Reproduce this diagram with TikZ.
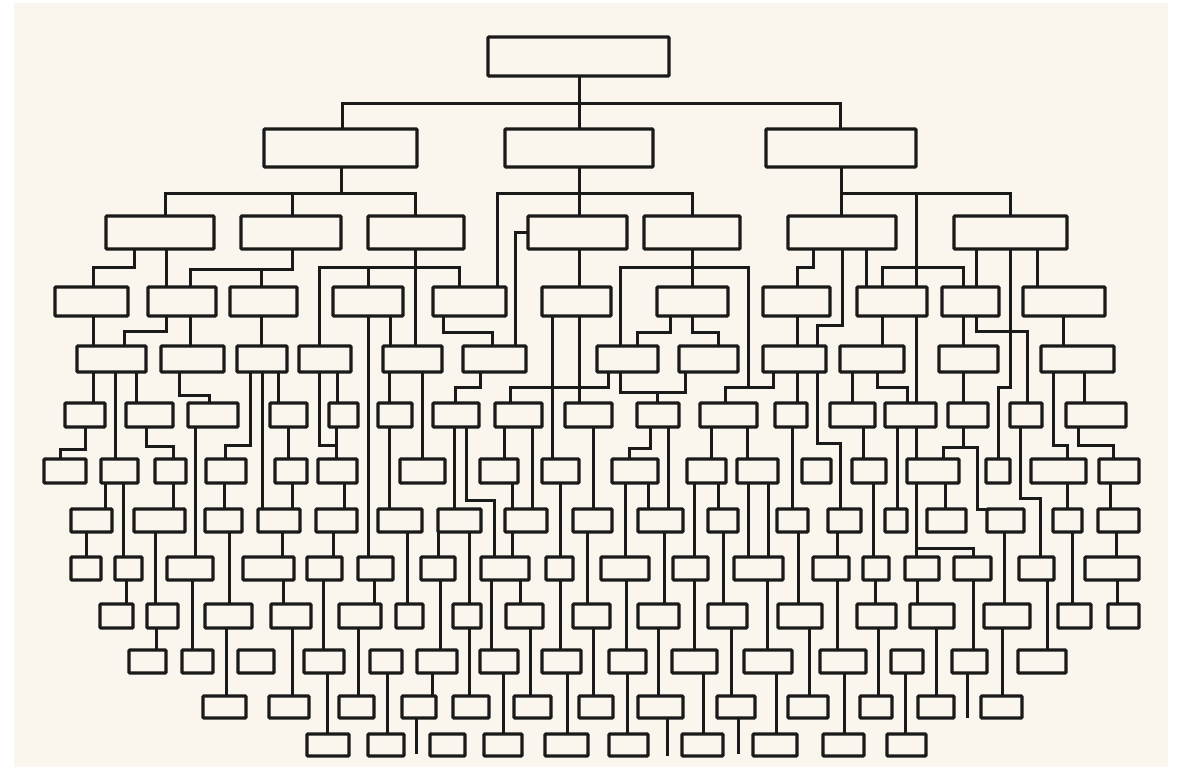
\documentclass[tikz,border=0pt]{standalone}
\usepackage{tikz}

\definecolor{paper}{HTML}{FAF6EE}
\definecolor{ink}{HTML}{1A1A1A}

% one box row: row, centre y, height, list of left/right edges
\newcommand{\boxrow}[4]{%
  \foreach \xa/\xb [count=\i] in {#4}
    \node[cell, minimum width={(\xb-\xa)*1pt}, minimum height=#3] (r#1c\i) at ({(\xa+\xb)/2},#2) {};}
% parent -> child with one elbow
\newcommand{\branch}[5]{\draw[wire] (#1.south -| #2,0) |- (#4,#3) -- (#5.north -| #4,0);}
% parent -> child with two elbows
\newcommand{\branchx}[7]{\draw[wire] (#1.south -| #2,0) |- (#4,#3) |- (#6,#5) -- (#7.north -| #6,0);}

\begin{document}
\begin{tikzpicture}[x=1pt, y=-1pt,
  cell/.style={draw=ink, line width=3.2pt, fill=paper, inner sep=0pt, outer sep=0pt, rounded corners=0.8pt},
  wire/.style={draw=ink, line width=3pt, line join=miter}]
\useasboundingbox (0,0) rectangle (1180,769);
% Paper
\fill[white] (0,0) rectangle (1180,769);
\fill[paper] (14,3) rectangle (1168,767);

% Boxes, row by row
\boxrow{0}{56.5}{39}{488/669}
\boxrow{1}{148}{38}{264/417, 505/653, 766/916}
\boxrow{2}{232.5}{33}{106/214, 241/341, 368/464, 528/627, 644/740, 788/896, 954/1067}
\boxrow{3}{301.5}{29}{55/128, 148/216, 230/297, 333/403, 433/506, 542/611, 657/728, 763/830, 857/927, 942/999, 1023/1105}
\boxrow{4}{359}{26}{77/146, 161/224, 237/287, 299/351, 383/442, 463/526, 597/658, 679/738, 763/826, 840/904, 939/998, 1041/1114}
\boxrow{5}{415}{24}{65/105, 126/173, 188/238, 270/307, 329/358, 378/412, 433/479, 495/542, 565/612, 637/679, 700/757, 775/807, 830/875, 885/936, 948/988, 1010/1042, 1066/1126}
\boxrow{6}{471}{24}{44/86, 101/138, 155/186, 206/246, 275/307, 318/357, 400/445, 480/518, 542/579, 612/658, 687/726, 737/778, 802/831, 852/886, 907/959, 986/1010, 1031/1086, 1099/1139}
\boxrow{7}{520.5}{23}{71/112, 134/185, 205/242, 258/300, 316/357, 378/422, 438/481, 505/547, 573/612, 638/683, 708/738, 777/808, 828/861, 885/907, 927/966, 987/1024, 1053/1082, 1098/1139}
\boxrow{8}{568.5}{23}{71/101, 115/142, 167/213, 243/294, 307/342, 358/393, 421/455, 481/529, 546/573, 601/649, 673/708, 734/783, 813/849, 863/889, 905/939, 954/991, 1019/1054, 1085/1139}
\boxrow{9}{616}{24}{100/133, 147/178, 205/252, 271/311, 339/381, 396/423, 453/481, 506/543, 573/610, 638/679, 708/747, 778/822, 857/896, 910/954, 984/1030, 1058/1091, 1108/1139}
\boxrow{10}{661.5}{23}{129/166, 182/213, 238/274, 304/344, 370/402, 417/457, 480/518, 542/581, 609/646, 672/717, 744/792, 820/866, 891/923, 952/987, 1018/1066}
\boxrow{11}{707}{22}{203/246, 269/309, 339/374, 402/436, 453/489, 514/551, 579/613, 638/683, 717/755, 788/828, 860/892, 918/954, 981/1022}
\boxrow{12}{745}{22}{307/349, 368/404, 430/465, 484/522, 545/588, 609/648, 682/723, 753/797, 823/864, 887/926}

% Top levels
\branch{r0c1}{579}{103}{342}{r1c1}
\branch{r0c1}{579}{103}{579}{r1c2}
\branch{r0c1}{579}{103}{840}{r1c3}
\branch{r1c1}{341}{193}{165}{r2c1}
\branch{r1c1}{341}{193}{292}{r2c2}
\branch{r1c1}{341}{193}{415}{r2c3}
\branch{r1c2}{579}{193}{579}{r2c4}
\branch{r1c2}{579}{193}{692}{r2c5}
\branch{r1c2}{579}{193}{497}{r3c5}
\branch{r1c3}{841}{193}{841}{r2c6}
\branch{r1c3}{841}{193}{1010}{r2c7}
\branchx{r1c3}{841}{193}{916}{267}{882}{r3c9}
\branchx{r1c3}{841}{193}{916}{267}{963}{r3c10}
\branch{r1c3}{841}{193}{916}{r3c9}

% Row 2 down
\branch{r2c1}{134}{267}{93}{r3c1}
\branch{r2c1}{166}{267}{166}{r3c2}
\branch{r2c2}{292}{269}{190}{r3c2}
\branch{r2c2}{292}{269}{261}{r3c3}
\branch{r2c3}{415}{267}{319}{r4c4}
\branch{r2c3}{415}{267}{368}{r3c4}
\branch{r2c3}{415}{267}{459}{r3c5}
\branch{r2c3}{415}{267}{415}{r4c5}
\draw[wire] (r2c4.west) -| (r4c6.north -| 515,0);
\branch{r2c4}{579}{267}{579}{r3c6}
\branch{r2c5}{692}{267}{692}{r3c7}
\branch{r2c5}{692}{267}{620}{r4c7}
\branchx{r2c5}{692}{267}{748}{387}{725}{r5c11}
\branch{r2c6}{813}{267}{797}{r3c8}
\branch{r2c6}{842}{325}{817}{r4c9}
\branch{r2c6}{866}{267}{866}{r3c9}
\branch{r2c7}{976}{267}{976}{r3c10}
\branch{r2c7}{1010}{387}{998}{r6c16}
\branch{r2c7}{1037}{267}{1037}{r3c11}

% Row 3 down
\branch{r3c1}{93}{330}{93}{r4c1}
\branch{r3c2}{166}{331}{124}{r4c1}
\branch{r3c2}{190}{331}{190}{r4c2}
\branch{r3c3}{261}{331}{261}{r4c3}
\branch{r3c4}{368}{331}{368}{r8c6}
\branch{r3c4}{390}{331}{390}{r4c5}
\branch{r3c5}{443}{332}{492}{r4c6}
\branch{r3c6}{552}{332}{552}{r6c9}
\branch{r3c6}{579}{332}{579}{r5c9}
\branch{r3c7}{670}{332}{637}{r4c7}
\branch{r3c7}{692}{332}{718}{r4c8}
\branch{r3c8}{797}{332}{797}{r4c9}
\branch{r3c9}{882}{332}{882}{r4c10}
\branch{r3c9}{916}{332}{916}{r5c14}
\branch{r3c10}{963}{332}{963}{r4c11}
\branch{r3c10}{976}{331}{1027}{r5c16}
\branch{r3c11}{1063}{332}{1063}{r4c12}

% Row 4 down
\branch{r4c1}{93}{390}{93}{r5c1}
\branch{r4c1}{115}{390}{115}{r6c2}
\branch{r4c1}{136}{390}{136}{r5c2}
\branch{r4c2}{179}{395}{209}{r5c3}
\branch{r4c3}{250}{445}{225}{r6c4}
\branch{r4c3}{262}{390}{262}{r7c4}
\branch{r4c3}{278}{390}{278}{r5c4}
\branch{r4c4}{319}{445}{336}{r6c6}
\branch{r4c4}{337}{390}{337}{r5c5}
\branch{r4c5}{389}{390}{389}{r5c6}
\branch{r4c5}{422}{390}{422}{r6c7}
\branch{r4c6}{480}{387}{455}{r5c7}
\branch{r4c7}{608}{387}{510}{r5c8}
\branch{r4c7}{620}{392}{657}{r5c10}
\branch{r4c8}{685}{392}{657}{r5c10}
\branch{r4c9}{773}{387}{725}{r5c11}
\branch{r4c9}{797}{390}{797}{r5c12}
\branch{r4c9}{817}{443}{840}{r7c13}
\branch{r4c10}{852}{390}{852}{r5c13}
\branch{r4c10}{877}{387}{907}{r5c14}
\branch{r4c11}{963}{390}{963}{r5c15}
\branch{r4c12}{1053}{445}{1067}{r6c17}
\branch{r4c12}{1084}{390}{1084}{r5c17}

% Row 5 down
\branch{r5c1}{85}{449}{60}{r6c1}
\branch{r5c2}{146}{446}{173}{r6c3}
\branch{r5c3}{195}{450}{195}{r8c3}
\branch{r5c4}{288}{450}{288}{r6c5}
\branch{r5c5}{336}{450}{336}{r6c6}
\branch{r5c6}{389}{450}{389}{r7c6}
\branch{r5c7}{454}{450}{454}{r7c7}
\branch{r5c7}{466}{500}{494}{r8c8}
\branch{r5c8}{504}{450}{504}{r6c8}
\branch{r5c8}{532}{450}{532}{r7c8}
\branch{r5c9}{593}{450}{593}{r7c9}
\branch{r5c10}{650}{448}{629}{r6c10}
\branch{r5c10}{668}{450}{668}{r7c10}
\branch{r5c11}{711}{450}{711}{r6c11}
\branch{r5c11}{747}{450}{747}{r6c12}
\branch{r5c12}{792}{450}{792}{r7c12}
\branch{r5c13}{863}{450}{863}{r6c14}
\branch{r5c14}{897}{450}{897}{r7c14}
\branch{r5c14}{916}{450}{916}{r6c15}
\branch{r5c15}{963}{447}{943}{r6c15}
\branchx{r5c15}{963}{447}{977}{509}{990}{r7c16}
\branch{r5c16}{1020}{498}{1040}{r8c17}
\branch{r5c17}{1078}{445}{1113}{r6c18}

% Row 6 down
\branch{r6c2}{105}{495}{105}{r7c1}
\branch{r6c2}{123}{495}{123}{r8c2}
\branch{r6c3}{173}{495}{173}{r7c2}
\branch{r6c4}{224}{495}{224}{r7c3}
\branch{r6c5}{292}{495}{292}{r7c4}
\branch{r6c6}{344}{495}{344}{r7c5}
\branch{r6c8}{512}{495}{512}{r7c8}
\branch{r6c9}{560}{495}{560}{r8c9}
\branch{r6c10}{625}{495}{625}{r8c10}
\branch{r6c10}{648}{495}{648}{r7c10}
\branch{r6c11}{694}{495}{694}{r8c11}
\branch{r6c11}{718}{495}{718}{r7c11}
\branch{r6c12}{748}{495}{748}{r8c12}
\branch{r6c12}{768}{495}{768}{r8c12}
\branch{r6c14}{873}{495}{873}{r8c14}
\branch{r6c15}{916}{548}{916}{r8c15}
\branch{r6c15}{916}{548}{973}{r8c16}
\branch{r6c15}{945}{495}{945}{r7c15}
\branch{r6c17}{1067}{495}{1067}{r7c17}
\branch{r6c18}{1110}{495}{1110}{r7c18}

% Row 7 down
\branch{r7c1}{86}{545}{86}{r8c1}
\branch{r7c2}{155}{545}{155}{r9c2}
\branch{r7c3}{229}{545}{229}{r9c3}
\branch{r7c4}{282}{545}{282}{r8c4}
\branch{r7c5}{333}{545}{333}{r8c5}
\branch{r7c6}{407}{545}{407}{r9c6}
\branch{r7c7}{438}{545}{438}{r8c7}
\branch{r7c7}{469}{545}{469}{r9c7}
\branch{r7c8}{512}{545}{512}{r8c8}
\branch{r7c9}{587}{545}{587}{r9c9}
\branch{r7c10}{664}{545}{664}{r9c10}
\branch{r7c11}{723}{545}{723}{r9c11}
\branch{r7c12}{798}{545}{798}{r9c12}
\branch{r7c13}{837}{545}{837}{r8c13}
\branch{r7c16}{1004}{545}{1004}{r9c15}
\branch{r7c17}{1072}{545}{1072}{r9c16}
\branch{r7c18}{1116}{545}{1116}{r8c18}

% Row 8 down
\branch{r8c2}{126}{592}{126}{r9c1}
\branch{r8c3}{192}{592}{192}{r10c2}
\branch{r8c4}{283}{592}{283}{r9c4}
\branch{r8c5}{323}{592}{323}{r10c4}
\branch{r8c6}{374}{592}{374}{r9c5}
\branch{r8c7}{440}{592}{440}{r10c6}
\branch{r8c8}{491}{592}{491}{r10c7}
\branch{r8c8}{520}{592}{520}{r9c8}
\branch{r8c9}{560}{592}{560}{r10c8}
\branch{r8c10}{626}{592}{626}{r10c9}
\branch{r8c11}{694}{592}{694}{r10c10}
\branch{r8c12}{767}{592}{767}{r10c11}
\branch{r8c13}{837}{592}{837}{r10c12}
\branch{r8c14}{875}{592}{875}{r9c13}
\branch{r8c15}{917}{592}{917}{r9c14}
\branch{r8c16}{973}{592}{973}{r10c14}
\branch{r8c17}{1047}{592}{1047}{r10c15}
\branch{r8c18}{1117}{592}{1117}{r9c17}

% Row 9 down
\branch{r9c2}{156}{640}{156}{r10c1}
\branch{r9c3}{226}{640}{226}{r11c1}
\branch{r9c4}{292}{640}{292}{r11c2}
\branch{r9c5}{358}{640}{358}{r11c3}
\branch{r9c7}{469}{640}{469}{r11c5}
\branch{r9c8}{530}{640}{530}{r11c6}
\branch{r9c9}{593}{640}{593}{r11c7}
\branch{r9c10}{658}{640}{658}{r11c8}
\branch{r9c11}{731}{640}{731}{r11c9}
\branch{r9c12}{809}{640}{809}{r11c10}
\branch{r9c13}{878}{640}{878}{r11c11}
\branch{r9c14}{936}{640}{936}{r11c12}
\branch{r9c15}{1002}{640}{1002}{r11c13}

% Row 10 down
\branch{r10c4}{327}{685}{327}{r12c1}
\branch{r10c5}{387}{685}{387}{r12c2}
\branch{r10c6}{432}{685}{432}{r11c4}
\branch{r10c7}{503}{685}{503}{r12c4}
\branch{r10c8}{567}{685}{567}{r12c5}
\branch{r10c9}{627}{685}{627}{r12c6}
\branch{r10c10}{703}{685}{703}{r12c7}
\branch{r10c11}{776}{685}{776}{r12c8}
\branch{r10c12}{844}{685}{844}{r12c9}
\branch{r10c13}{905}{685}{905}{r12c10}

% Loose ends
\coordinate (end1) at (416,754);
\coordinate (end2) at (667,756);
\coordinate (end3) at (738,754);
\coordinate (end4) at (967,718);
\draw[wire] (r11c4.south -| end1) -- (end1);
\draw[wire] (r11c8.south -| end2) -- (end2);
\draw[wire] (r11c9.south -| end3) -- (end3);
\draw[wire] (r10c14.south -| end4) -- (end4);
\end{tikzpicture}
\end{document}
